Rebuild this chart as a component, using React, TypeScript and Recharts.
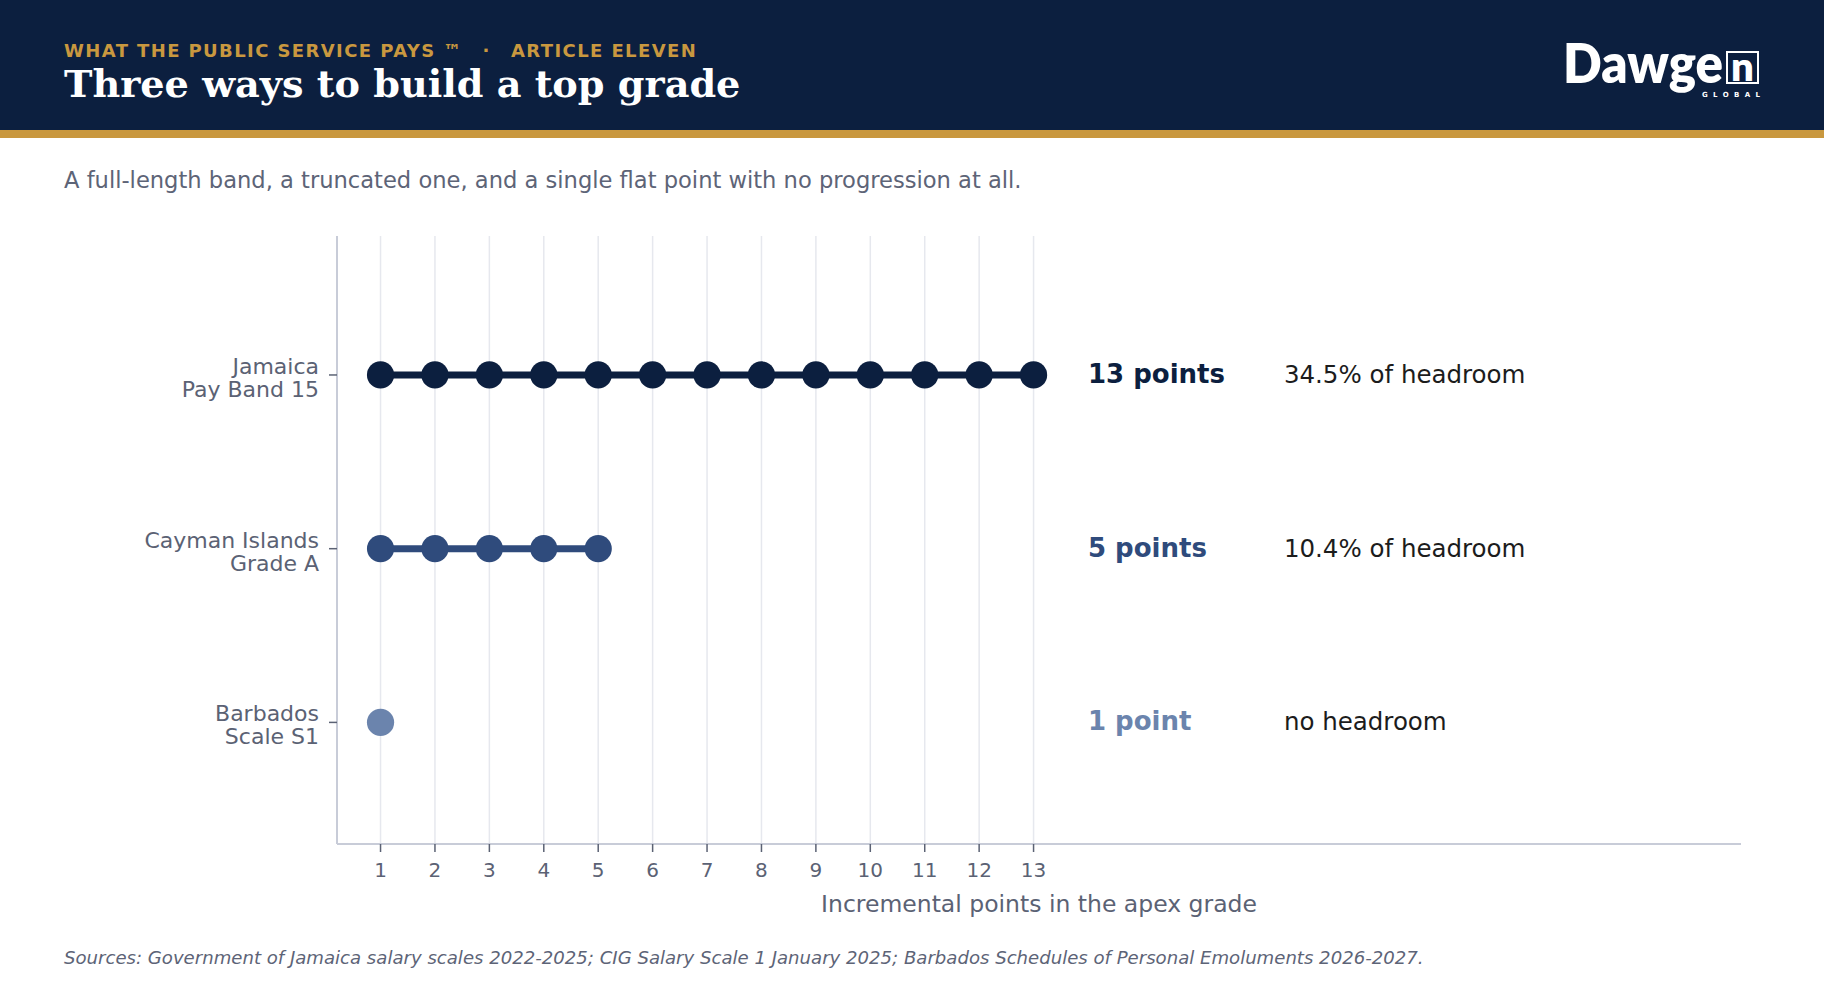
import React from 'react';
import { ScatterChart, Scatter, XAxis, YAxis, ReferenceLine } from 'recharts';

// ---- data ----
const rowNames = [
  ['Jamaica', 'Pay Band 15'],
  ['Cayman Islands', 'Grade A'],
  ['Barbados', 'Scale S1'],
];
const rowPositions = [2, 1, 0];
const jamaicaPoints = [1, 2, 3, 4, 5, 6, 7, 8, 9, 10, 11, 12, 13];
const caymanPoints = [1, 2, 3, 4, 5];
const barbadosPoints = [1];
const pointCountLabels = ['13 points', '5 points', '1 point'];
const headroomLabels = ['34.5% of headroom', '10.4% of headroom', 'no headroom'];
const xTicks = [1, 2, 3, 4, 5, 6, 7, 8, 9, 10, 11, 12, 13];
const countLabelX = 14;
const headroomLabelX = 17.6;

// ---- style ----
const NAVY = '#0c1f3f';
const GOLD = '#c9983f';
const seriesColors = ['#0c1f3f', '#2f4b7c', '#6b84ad'];
const GRAY = '#5b6274';
const FONT = "'DejaVu Sans', sans-serif";

const pointSeries = [jamaicaPoints, caymanPoints, barbadosPoints].map((pts, i) =>
  pts.map((p) => ({ x: p, y: rowPositions[i] }))
);
const countData = rowPositions.map((y, i) => ({
  x: countLabelX,
  y,
  text: pointCountLabels[i],
  color: seriesColors[i],
}));
const headroomData = rowPositions.map((y, i) => ({
  x: headroomLabelX,
  y,
  text: headroomLabels[i],
}));

const dotShape = (color: string) => (props: any) =>
  <circle cx={props.cx} cy={props.cy} r={13.6} fill={color} />;

const CountLabel = (props: any) => (
  <text x={props.cx} y={props.cy + 8} fontSize={26} fontWeight={700} fill={props.payload.color} fontFamily={FONT}>
    {props.payload.text}
  </text>
);
const HeadroomLabel = (props: any) => (
  <text x={props.cx} y={props.cy + 8} fontSize={24.5} fill="#1c1c1c" fontFamily={FONT}>
    {props.payload.text}
  </text>
);

const YTick = (props: any) => {
  const { x, y, payload } = props;
  const idx = rowPositions.indexOf(payload.value);
  const lines = idx >= 0 ? rowNames[idx] : [];
  return (
    <text x={x} y={y} textAnchor="end" fontSize={22} fill={GRAY} fontFamily={FONT}>
      <tspan x={x} dy={-1}>{lines[0]}</tspan>
      <tspan x={x} dy={23}>{lines[1]}</tspan>
    </text>
  );
};

export default function App() {
  return (
    <div style={{ position: 'absolute', left: 0, top: 0, width: 1824, height: 988, background: '#ffffff', overflow: 'hidden' }}>
      <svg width={1824} height={988} style={{ position: 'absolute', left: 0, top: 0 }}>
        <rect x={0} y={0} width={1824} height={130} fill={NAVY} />
        <rect x={0} y={130} width={1824} height={8} fill={GOLD} />
        <text x={64} y={57} fontSize={18} fontWeight={700} fill={GOLD} fontFamily={FONT} style={{ letterSpacing: '1.4px' }}>
          WHAT THE PUBLIC SERVICE PAYS ™
        </text>
        <text x={486} y={57} fontSize={18} fontWeight={700} fill={GOLD} fontFamily={FONT} textAnchor="middle">·</text>
        <text x={511} y={57} fontSize={18} fontWeight={700} fill={GOLD} fontFamily={FONT} style={{ letterSpacing: '1.4px' }}>
          ARTICLE ELEVEN
        </text>
        <text x={64} y={97} fontSize={38.2} fontWeight={700} fill="#ffffff" fontFamily="'DejaVu Serif', serif">
          Three ways to build a top grade
        </text>
        {/* logo */}
        <text x={1563} y={83} fontSize={54} fontWeight={800} fill="#ffffff" fontFamily="Lato, 'Open Sans', sans-serif"
          textLength={160} lengthAdjust="spacingAndGlyphs">Dawge</text>
        <rect x={1727} y={52} width={31} height={31} fill="none" stroke="#ffffff" strokeWidth={2} />
        <text x={1742.5} y={81} fontSize={40} fontWeight={800} fill="#ffffff" fontFamily="Lato, sans-serif" textAnchor="middle">n</text>
        <text x={1702} y={97} fontSize={7} fontWeight={700} fill="#ffffff" fontFamily={FONT}
          textLength={58} lengthAdjust="spacing">GLOBAL</text>
        <text x={64} y={188} fontSize={22.6} fill="#5d6477" fontFamily={FONT}>
          A full-length band, a truncated one, and a single flat point with no progression at all.
        </text>
        <text x={64} y={964} fontSize={18.1} fontStyle="italic" fill="#5d6477" fontFamily={FONT}>
          Sources: Government of Jamaica salary scales 2022-2025; CIG Salary Scale 1 January 2025; Barbados Schedules of Personal Emoluments 2026-2027.
        </text>
      </svg>
      <div style={{ position: 'absolute', left: 0, top: 0 }}>
        <ScatterChart width={1824} height={988} margin={{ top: 236, right: 83, bottom: 0, left: 0 }} style={{ fontFamily: FONT }}>
          <XAxis
            dataKey="x"
            type="number"
            domain={[0.2, 26]}
            ticks={xTicks}
            interval={0}
            height={144}
            tickSize={8}
            tickMargin={11}
            axisLine={{ stroke: '#c8ccd8', strokeWidth: 2 }}
            tickLine={{ stroke: GRAY, strokeWidth: 1.5 }}
            tick={{ fill: GRAY, fontSize: 20, fontFamily: FONT }}
            label={{ value: 'Incremental points in the apex grade', position: 'insideBottom', offset: 76, fill: GRAY, fontSize: 23.5, fontFamily: FONT }}
          />
          <YAxis
            dataKey="y"
            type="number"
            domain={[-0.7, 2.8]}
            ticks={rowPositions}
            interval={0}
            width={337}
            tickSize={8}
            tickMargin={10}
            axisLine={{ stroke: '#c8ccd8', strokeWidth: 2 }}
            tickLine={{ stroke: GRAY, strokeWidth: 1.5 }}
            tick={<YTick />}
          />
          {xTicks.map((t) => (
            <ReferenceLine key={'g' + t} x={t} stroke="#e6e8ee" strokeWidth={1.5} />
          ))}
          {pointSeries.map((data, i) => (
            <Scatter
              key={i}
              data={data}
              fill={seriesColors[i]}
              line={{ stroke: seriesColors[i], strokeWidth: 7 }}
              shape={dotShape(seriesColors[i])}
              isAnimationActive={false}
            />
          ))}
          <Scatter data={countData} shape={CountLabel} isAnimationActive={false} />
          <Scatter data={headroomData} shape={HeadroomLabel} isAnimationActive={false} />
        </ScatterChart>
      </div>
    </div>
  );
}
